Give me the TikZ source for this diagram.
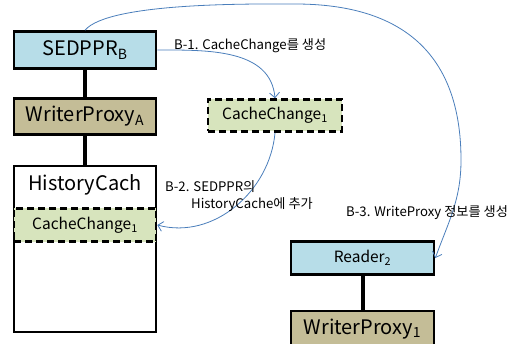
\documentclass[tikz,border=0pt]{standalone}
\usepackage{fontspec}
\setmainfont{Noto Sans CJK KR}
\usetikzlibrary{arrows.meta}

\definecolor{boxblue}{HTML}{B7DDE8}
\definecolor{boxtan}{HTML}{C4BD97}
\definecolor{boxgreen}{HTML}{D7E4BD}
\definecolor{flowblue}{HTML}{4A7EBB}

\tikzset{
	block/.style={draw, line width=2.6pt, minimum width=142pt, inner sep=0pt, font=\fontsize{20}{22}\selectfont},
	change/.style={draw, line width=2.6pt, dash pattern=on 7pt off 4pt, fill=boxgreen, inner sep=0pt, font=\fontsize{15.5}{17}\selectfont},
	link/.style={line width=4pt},
	flow/.style={draw=flowblue, line width=0.8pt, -{Straight Barb[length=5pt,width=10pt]}},
	note/.style={anchor=west, inner sep=0pt, font=\fontsize{13.2}{15}\selectfont}
}

\begin{document}
\begin{tikzpicture}[x=1pt, y=-1pt]
	\useasboundingbox (0,0) rectangle (518,344);
	\clip (0,0) rectangle (518,344);
	
	\node[block, fill=boxblue, minimum height=37pt] (sedppr) at (85,50) {SEDPPR\textsubscript{B}};
	\node[block, fill=boxtan, minimum height=36pt] (proxyA) at (85,116.5) {WriterProxy\textsubscript{A}};
	\node[block, minimum height=166pt] (history) at (85,249) {};
	\node[font=\fontsize{20}{22}\selectfont] (historytitle) at (85,185) {HistoryCach};
	\node[change, minimum width=142pt, minimum height=33pt] (cacheIn) at (85,225) {CacheChange\textsubscript{1}};
	\node[change, minimum width=134pt, minimum height=32pt] (cacheNew) at (275,115.5) {CacheChange\textsubscript{1}};
	\node[block, fill=boxblue, minimum width=143pt, minimum height=33pt, font=\fontsize{15.5}{17}\selectfont] (reader) at (362.5,258) {Reader\textsubscript{2}};
	\node[block, fill=boxtan, minimum width=143pt, minimum height=36pt] (proxy1) at (362.5,329) {WriterProxy\textsubscript{1}};
	
	\draw[link] (sedppr) -- (proxyA);
	\draw[link] (proxyA) -- (history);
	\draw[link] (reader) -- (proxy1);
	
	% B-1, B-2, B-3
	\coordinate (arcTop) at (295,4);
	\coordinate (arcSide) at (461,160);
	\draw[flow] (sedppr.east) to[out=0,in=95] (cacheNew.north);
	\draw[flow] (cacheNew.south) to[out=-95,in=-15] (cacheIn.east);
	\draw[flow] (sedppr.north) to[out=50,in=180,looseness=0.45] (arcTop) to[out=0,in=90,looseness=1.2] (arcSide) to[out=-90,in=70] (reader.east);
	
	\node[note] (b1) at (174,46) {B-1. CacheChange를 생성};
	\node[note] (b2a) at (165,187) {B-2. SEDPPR의};
	\node[note] (b2b) at (191,205) {HistoryCache에 추가};
	\node[note] (b3) at (346,213) {B-3. WriteProxy 정보를 생성};
\end{tikzpicture}
\end{document}
